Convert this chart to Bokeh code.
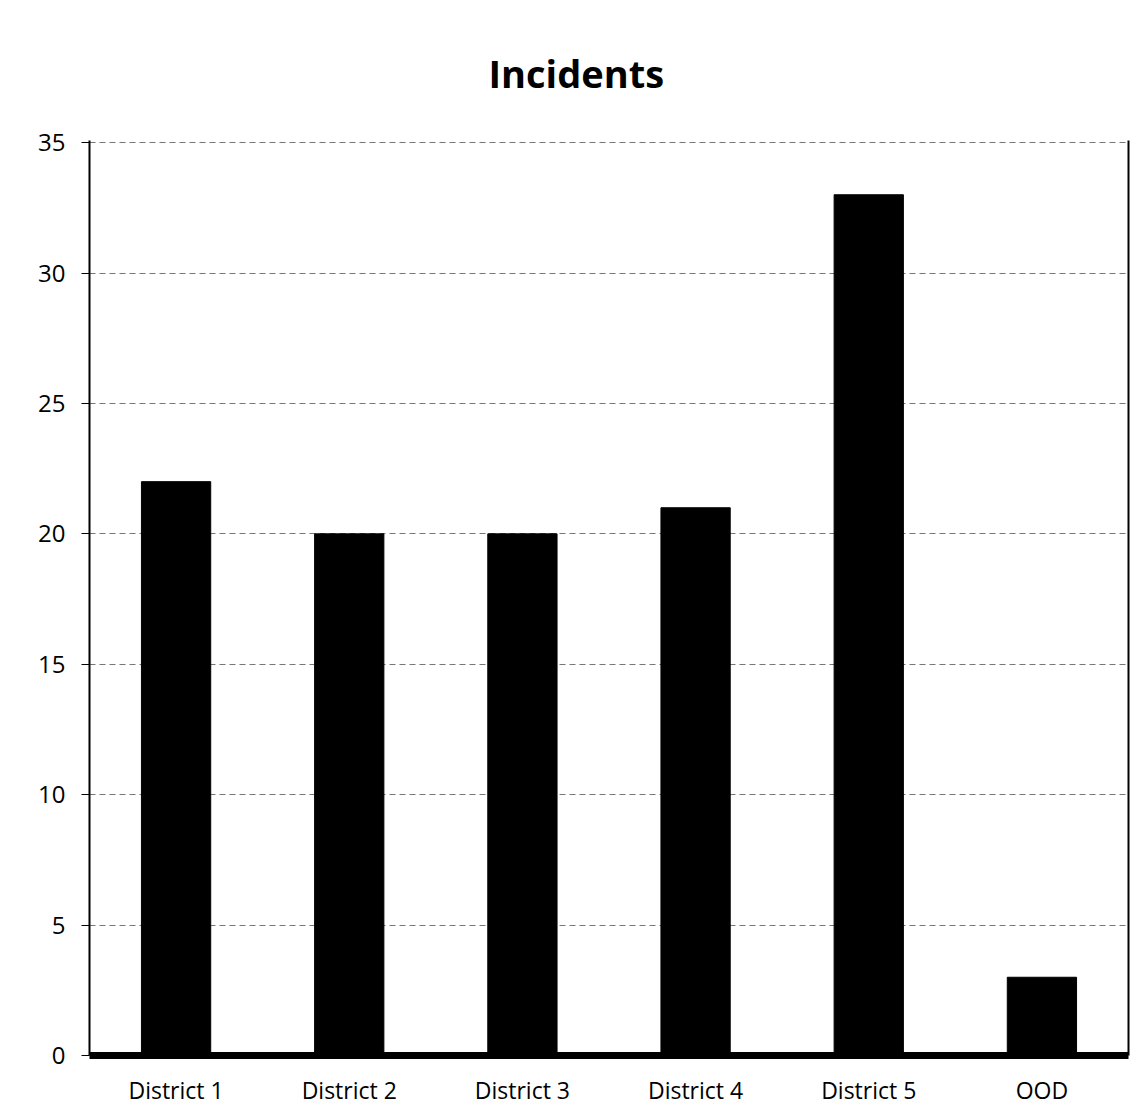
from bokeh.plotting import figure
from bokeh.models import FactorRange, Range1d, LinearAxis
from bokeh.embed import file_html
from bokeh.resources import INLINE

categories = ["District 1", "District 2", "District 3", "District 4", "District 5", "OOD"]
incidents = [22, 20, 20, 21, 33, 3]
y_ticks = [0, 5, 10, 15, 20, 25, 30, 35]

p = figure(x_range=FactorRange(*categories, range_padding=0), y_range=Range1d(0, 35.08),
           frame_width=1039, frame_height=915,
           min_border_left=89, min_border_right=10, min_border_top=140, min_border_bottom=51,
           output_backend="svg", toolbar_location=None, title="Incidents")

p.vbar(x=categories, top=incidents, width=0.4, color="black", line_color="black")

p.title.align = "left"
p.title.offset = 399
p.title.text_font = "Open Sans"
p.title.text_font_size = "38px"
p.title.text_font_style = "bold"
p.title.text_color = "black"
p.title.standoff = 83

p.yaxis.ticker = y_ticks
p.yaxis.major_label_text_font = "Open Sans"
p.yaxis.major_label_text_font_size = "24px"
p.yaxis.major_label_text_color = "black"
p.yaxis.axis_line_color = "black"
p.yaxis.axis_line_width = 2
p.yaxis.major_tick_out = 8
p.yaxis.major_tick_in = 0
p.yaxis.major_tick_line_color = "black"
p.yaxis.minor_tick_line_color = None
p.yaxis.major_label_standoff = 16

p.xaxis.axis_line_color = "black"
p.xaxis.axis_line_width = 7
p.xaxis.major_tick_line_color = None
p.xaxis.minor_tick_line_color = None
p.xaxis.major_label_text_font = "Open Sans"
p.xaxis.major_label_text_font_size = "23px"
p.xaxis.major_label_text_color = "black"
p.xaxis.major_label_standoff = 12

p.xgrid.grid_line_color = None
p.ygrid.grid_line_color = "#555555"
p.ygrid.grid_line_width = 1
p.ygrid.grid_line_dash = "6 4"
p.ygrid.grid_line_alpha = 0.8

p.outline_line_color = None
p.background_fill_color = "white"
p.border_fill_color = "white"

right_axis = LinearAxis(axis_line_color="black", axis_line_width=2, major_tick_line_color=None,
                        minor_tick_line_color=None, major_label_text_font_size="0px")
p.add_layout(right_axis, "right")

open("out.html", "w").write(file_html(p, INLINE))
